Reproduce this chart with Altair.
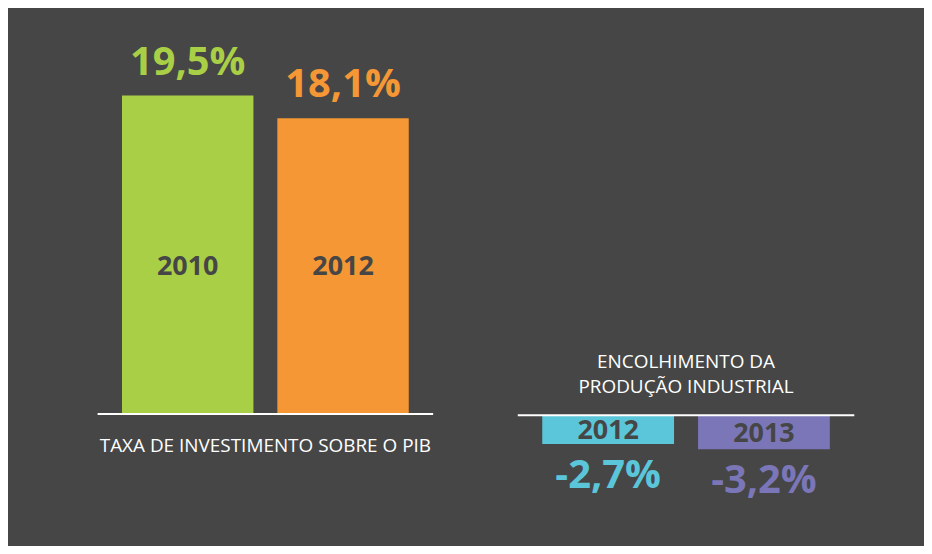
import altair as alt
import pandas as pd

# ---- data ----
inv_years = ["2010", "2012"]
inv_values = [19.5, 18.1]
inv_labels = ["19,5%", "18,1%"]
inv_colors = ["#a9cf46", "#f59734"]
inv_title = "TAXA DE INVESTIMENTO SOBRE O PIB"

ind_years = ["2012", "2013"]
ind_values = [-2.7, -3.2]
ind_labels = ["-2,7%", "-3,2%"]
ind_colors = ["#5bc6d9", "#7a76b8"]
ind_title = ["ENCOLHIMENTO DA", "PRODUÇÃO INDUSTRIAL"]

BG = "#464646"
FONT = "Open Sans"

inv = pd.DataFrame({"year": inv_years, "value": inv_values, "label": inv_labels})
ind = pd.DataFrame({"year2": ind_years, "value": ind_values, "label": ind_labels})
one = pd.DataFrame({"k": [0]})

band = dict(paddingInner=0.154, paddingOuter=0.157)
H = 538

# ---- left panel ----
xl = alt.X("year:N", axis=None, sort=inv_years, scale=alt.Scale(**band))
yl = alt.Scale(domain=[-8.0, 24.78], zero=False, nice=False)
cl = alt.Color("year:N", scale=alt.Scale(domain=inv_years, range=inv_colors), legend=None)

base_l = alt.Chart(inv).encode(x=xl)
bars_l = base_l.mark_bar().encode(
    y=alt.Y("value:Q", axis=None, scale=yl), y2=alt.datum(0), color=cl
)
vals_l = base_l.mark_text(
    baseline="bottom", dy=-13, fontSize=40, fontWeight="bold", font=FONT
).encode(y=alt.Y("value:Q"), text="label:N", color=cl)
years_l = base_l.mark_text(
    baseline="middle", dy=-148, fontSize=27, fontWeight="bold", font=FONT, color=BG
).encode(y=alt.datum(0), text="year:N")
rule_l = alt.Chart(one).mark_rule(color="white", strokeWidth=2).encode(y=alt.datum(0))
title_l = alt.Chart(one).mark_text(
    baseline="middle", dy=32, fontSize=19, font=FONT, color="white"
).encode(y=alt.datum(0), text=alt.value(inv_title))

left = alt.layer(bars_l, rule_l, vals_l, years_l, title_l).properties(width=337, height=H)

# ---- right panel ----
xr = alt.X("year2:N", axis=None, sort=ind_years, scale=alt.Scale(**band))
yr = alt.Scale(domain=[-12.14, 38.0], zero=False, nice=False)
cr = alt.Color("year2:N", scale=alt.Scale(domain=ind_years, range=ind_colors), legend=None)

base_r = alt.Chart(ind).encode(x=xr)
bars_r = base_r.mark_bar().encode(
    y=alt.Y("value:Q", axis=None, scale=yr), y2=alt.datum(0), color=cr
)
vals_r = base_r.mark_text(
    baseline="top", dy=12, fontSize=40, fontWeight="bold", font=FONT
).encode(y=alt.Y("value:Q"), text="label:N", color=cr)
years_r = base_r.transform_calculate(mid="datum.value / 2").mark_text(
    baseline="middle", dy=1.5, fontSize=27, fontWeight="bold", font=FONT, color=BG
).encode(y=alt.Y("mid:Q"), text="year2:N")
rule_r = alt.Chart(one).mark_rule(color="white", strokeWidth=2).encode(y=alt.datum(0))
title_r = alt.Chart(one).mark_text(
    baseline="middle", dy=-53, fontSize=19, font=FONT, color="white", lineHeight=25
).encode(y=alt.datum(0), text=alt.value(ind_title))

right = alt.layer(bars_r, rule_r, vals_r, years_r, title_r).properties(width=338, height=H)

chart = (
    alt.hconcat(left, right, spacing=83)
    .resolve_scale(color="independent")
    .properties(
        background=BG,
        padding={"left": 89, "top": 0, "right": 69, "bottom": 0},
    )
    .configure_view(stroke=None)
)

chart.save("out.html", embed_options={"renderer": "svg", "actions": False})
